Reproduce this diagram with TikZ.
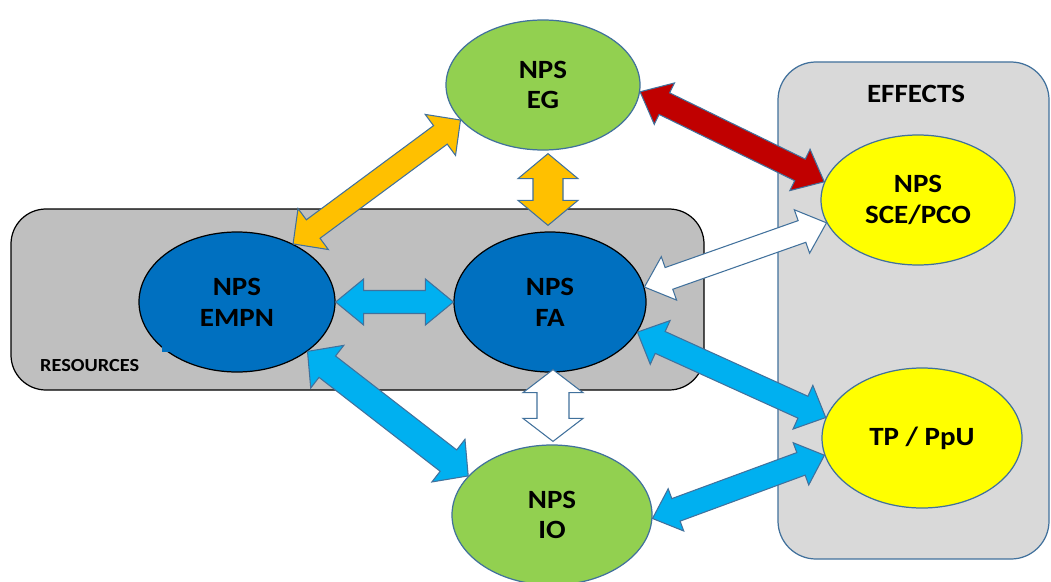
\documentclass[tikz,border=0pt]{standalone}
\usepackage{fontspec}
\setmainfont{Carlito}[FakeStretch=1.1]
\usetikzlibrary{shapes.geometric,calc}
\definecolor{cgreen}{HTML}{92D050}
\definecolor{cdblue}{HTML}{0070C0}
\definecolor{clblue}{HTML}{00B0F0}
\definecolor{cyellow}{HTML}{FFFF00}
\definecolor{corange}{HTML}{FFC000}
\definecolor{cred}{HTML}{C00000}
\definecolor{coutline}{HTML}{41719C}
\definecolor{cgrayA}{HTML}{BFBFBF}
\definecolor{cgrayB}{HTML}{D9D9D9}
\newcommand\blockarrow[6]{%
  \coordinate (ba1) at ($(#2)!#4!(#3)$);
  \coordinate (ba2) at ($(#3)!#4!(#2)$);
  \draw[#1] (#2) -- ($(ba1)!#5!90:(#3)$) -- ($(ba1)!#6!90:(#3)$)
    -- ($(ba2)!#6!-90:(#2)$) -- ($(ba2)!#5!-90:(#2)$) -- (#3)
    -- ($(ba2)!#5!90:(#2)$) -- ($(ba2)!#6!90:(#2)$)
    -- ($(ba1)!#6!-90:(#3)$) -- ($(ba1)!#5!-90:(#3)$) -- cycle;}
\tikzset{
  bubble/.style={ellipse, inner sep=0pt, line width=0.7pt, align=center,
    font=\bfseries\fontsize{15}{17.5}\selectfont},
  arr/.style={draw=coutline, line width=0.6pt, line join=miter},
  boxlabel/.style={font=\bfseries\fontsize{15}{17}\selectfont}
}
\begin{document}
\begin{tikzpicture}[x=0.2mm, y=-0.2mm]
\useasboundingbox (0,0) rectangle (1051,581);
\fill[white] (0,0) rectangle (1051,581);
% boxes
\draw[fill=cgrayA, draw=black, line width=0.7pt, rounded corners=7mm] (11,209) rectangle (704,390);
\draw[fill=cgrayB, draw=coutline, line width=0.7pt, rounded corners=7.6mm] (778,62) rectangle (1049,559);
\node[boxlabel] (efflabel) at (916,94) {EFFECTS};
\node[font=\bfseries\fontsize{10.5}{12}\selectfont, anchor=west] (reslabel) at (34,366) {RESOURCES};
% ellipses
\node[bubble, fill=cgreen, draw=coutline, minimum width=38.8mm, minimum height=26mm] (eg) at (543,85) {NPS\\EG};
\node[bubble, fill=cdblue, draw=black, minimum width=39.2mm, minimum height=28mm] (empn) at (237,302) {NPS\\EMPN};
\node[bubble, fill=cdblue, draw=black, minimum width=38.4mm, minimum height=28mm] (fa) at (550,302) {NPS\\FA};
\node[bubble, fill=cyellow, draw=coutline, minimum width=38.8mm, minimum height=26mm] (sce) at (918,200) {NPS\\SCE/PCO};
\node[bubble, fill=cyellow, draw=coutline, minimum width=40mm, minimum height=28mm] (tp) at (922,438) {TP / PpU};
\node[bubble, fill=cgreen, draw=coutline, minimum width=40mm, minimum height=28mm] (io) at (552,515) {NPS\\IO};
\fill[cdblue] (162,343) rectangle (170,352);
% arrows
\blockarrow{arr, fill=corange}{eg.203}{empn.46}{5mm}{5.1mm}{2.3mm}
\coordinate (ova) at ($(eg.south)+(5,3)$);
\coordinate (ovb) at ($(fa.north)+(-2,-6)$);
\blockarrow{arr, fill=corange}{ova}{ovb}{5mm}{6mm}{3mm}
\blockarrow{arr, fill=cred}{eg.-4}{sce.169}{5.4mm}{4.6mm}{2.4mm}
\blockarrow{arr, fill=white}{fa.9}{sce.194}{5.2mm}{4.6mm}{2.3mm}
\blockarrow{arr, fill=clblue}{empn.east}{fa.west}{5.6mm}{4.6mm}{2.3mm}
\blockarrow{arr, fill=clblue}{fa.-19}{tp.168}{5mm}{4.8mm}{2.4mm}
\blockarrow{arr, fill=clblue}{empn.-35}{io.155}{5mm}{5.4mm}{2.7mm}
\blockarrow{arr, fill=clblue}{io.-2}{tp.190}{5mm}{4.5mm}{2.4mm}
\coordinate (wva) at ($(fa.south)+(3,-3)$);
\coordinate (wvb) at ($(io.north)+(1,-3)$);
\blockarrow{arr, fill=white}{wva}{wvb}{4.6mm}{6mm}{3.2mm}
\end{tikzpicture}
\end{document}
